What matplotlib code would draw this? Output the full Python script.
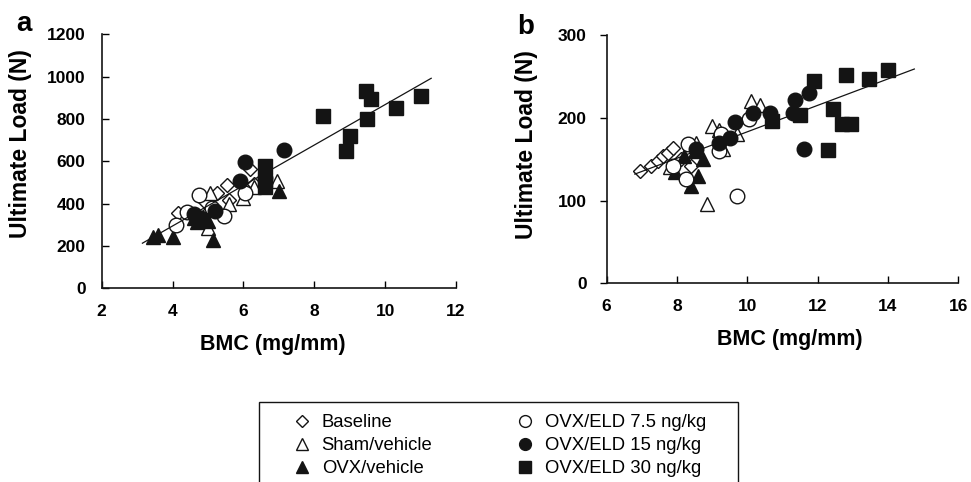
import matplotlib.pyplot as plt
from matplotlib.lines import Line2D
from matplotlib.patches import Rectangle

plt.rcParams['font.family'] = ['Liberation Sans', 'DejaVu Sans']

# ---- data ----
groups = ['Baseline', 'Sham/vehicle', 'OVX/vehicle',
          'OVX/ELD 7.5 ng/kg', 'OVX/ELD 15 ng/kg', 'OVX/ELD 30 ng/kg']

# panel a : BMC (mg/mm) vs ultimate load (N)
a_base_x = [4.15, 4.9, 4.95, 5.25, 5.55, 5.6, 6.2, 6.3]
a_base_y = [355, 410, 350, 450, 490, 415, 565, 495]
a_sham_x = [5.0, 5.05, 5.6, 6.0, 6.3, 6.95]
a_sham_y = [285, 450, 400, 425, 480, 505]
a_ovx_x = [3.45, 3.6, 4.0, 5.15, 7.0, 4.7, 5.0, 4.6]
a_ovx_y = [240, 250, 240, 230, 460, 315, 320, 330]
a_e75_x = [4.1, 4.4, 4.75, 5.45, 6.05, 5.1]
a_e75_y = [300, 360, 440, 340, 450, 380]
a_e15_x = [4.6, 4.8, 5.2, 5.9, 6.05, 6.6, 7.15]
a_e15_y = [350, 330, 365, 505, 595, 520, 655]
a_e30_x = [6.6, 6.6, 6.6, 8.25, 8.9, 9.0, 9.45, 9.5, 9.6, 10.3, 11.0]
a_e30_y = [580, 510, 480, 815, 650, 720, 930, 800, 895, 850, 910]
a_fit_x = [3.15, 11.3]
a_fit_y = [213, 992]

# panel b
b_base_x = [6.95, 7.25, 7.45, 7.6, 7.75, 7.9, 8.1, 8.4]
b_base_y = [136, 142, 148, 154, 158, 164, 150, 142]
b_sham_x = [7.8, 8.55, 8.85, 9.0, 9.2, 9.3, 9.7, 10.1, 10.35]
b_sham_y = [140, 170, 96, 190, 185, 162, 180, 220, 215]
b_ovx_x = [7.95, 8.2, 8.4, 8.5, 8.6, 8.75]
b_ovx_y = [134, 154, 118, 160, 130, 150]
b_e75_x = [7.9, 8.25, 8.3, 9.2, 9.25, 9.7, 10.05]
b_e75_y = [142, 126, 168, 160, 180, 106, 198]
b_e15_x = [8.55, 9.2, 9.5, 9.65, 10.15, 10.65, 11.3, 11.35, 11.6, 11.75]
b_e15_y = [162, 170, 176, 195, 206, 206, 206, 221, 162, 230]
b_e30_x = [10.7, 11.5, 11.9, 12.3, 12.45, 12.7, 12.8, 12.95, 13.45, 14.0]
b_e30_y = [196, 203, 244, 161, 211, 192, 252, 192, 247, 258]
b_fit_x = [6.8, 14.75]
b_fit_y = [132, 259]

a_xticks = [2, 4, 6, 8, 10, 12]
a_yticks = [0, 200, 400, 600, 800, 1000, 1200]
b_xticks = [6, 8, 10, 12, 14, 16]
b_yticks = [0, 100, 200, 300]

# ---- styles ----
K = '#141414'
styles = [
    dict(marker='D', ms=7.6, mfc='white', mec=K),
    dict(marker='^', ms=10.5, mfc='white', mec=K),
    dict(marker='^', ms=10.5, mfc=K, mec=K),
    dict(marker='o', ms=10.5, mfc='white', mec=K),
    dict(marker='o', ms=10.5, mfc=K, mec=K),
    dict(marker='s', ms=10.5, mfc=K, mec=K),
]

fig = plt.figure(figsize=(9.71, 4.82), dpi=100)
ax_a = fig.add_axes([0.1047, 0.4019, 0.3649, 0.527])
ax_b = fig.add_axes([0.6248, 0.4122, 0.3621, 0.515])

panel_a = [(a_base_x, a_base_y), (a_sham_x, a_sham_y), (a_ovx_x, a_ovx_y),
           (a_e75_x, a_e75_y), (a_e15_x, a_e15_y), (a_e30_x, a_e30_y)]
panel_b = [(b_base_x, b_base_y), (b_sham_x, b_sham_y), (b_ovx_x, b_ovx_y),
           (b_e75_x, b_e75_y), (b_e15_x, b_e15_y), (b_e30_x, b_e30_y)]

for ax, series, fx, fy in [(ax_a, panel_a, a_fit_x, a_fit_y),
                           (ax_b, panel_b, b_fit_x, b_fit_y)]:
    for (x, y), st in zip(series, styles):
        ax.plot(x, y, ls='none', mew=1.0, clip_on=False, **st)
    ax.plot(fx, fy, color=K, lw=0.9, zorder=5)
    for s in ['top', 'right']:
        ax.spines[s].set_visible(False)
    for s in ['left', 'bottom']:
        ax.spines[s].set_linewidth(1.2)
        ax.spines[s].set_color(K)
    ax.set_xlabel('BMC (mg/mm)', fontsize=15.5, fontweight='bold')
    ax.set_ylabel('Ultimate Load (N)', fontsize=16.5, fontweight='bold')
    ax.xaxis.label.set_va('center')
    ax.yaxis.label.set_va('center')

ax_a.set_xlim(2, 12)
ax_a.set_ylim(0, 1200)
ax_a.set_xticks(a_xticks)
ax_a.set_yticks(a_yticks)
ax_a.tick_params(direction='in', length=5, width=1.0, labelsize=12.5, pad=11.5)
ax_a.xaxis.set_label_coords(0.482, -0.223)
ax_a.yaxis.set_label_coords(-0.23, 0.57)

ax_b.set_xlim(6, 16)
ax_b.set_ylim(0, 300)
ax_b.set_xticks(b_xticks)
ax_b.set_yticks(b_yticks)
ax_b.tick_params(axis='x', direction='in', length=5, width=1.0, labelsize=12.5, pad=11.5)
ax_b.tick_params(axis='y', direction='out', length=5, width=1.0, labelsize=12.5, pad=9.5)
ax_b.xaxis.set_label_coords(0.521, -0.228)
ax_b.yaxis.set_label_coords(-0.227, 0.557)

for ax in (ax_a, ax_b):
    for lab in ax.get_xticklabels() + ax.get_yticklabels():
        lab.set_fontweight('bold')

fig.text(23.5 / 971, 1 - 31 / 482, 'a', fontsize=20, fontweight='bold', ha='center', va='baseline')
fig.text(526 / 971, 1 - 34 / 482, 'b', fontsize=20, fontweight='bold', ha='center', va='baseline')

# legend
leg_ms = [6.3, 8.5, 8.5, 8.5, 8.5, 8.5]
handles = []
for st, m in zip(styles, leg_ms):
    st2 = dict(st)
    st2['ms'] = m
    handles.append(Line2D([], [], ls='none', mew=1.0, **st2))
fig.legend(handles, groups, ncol=2, loc='upper left',
           bbox_to_anchor=(292.5 / 971, 1 - 414 / 482), frameon=False,
           fontsize=13.3, handlelength=1.0, handletextpad=0.58,
           columnspacing=4.49, labelspacing=0.335, borderpad=0, borderaxespad=0)
fig.patches.append(Rectangle((259 / 971, -0.1), (738 - 259) / 971, 0.1 + 1 - 402 / 482,
                             transform=fig.transFigure, fill=False, ec=K, lw=1.0))

fig.savefig('out.png', dpi=100)
